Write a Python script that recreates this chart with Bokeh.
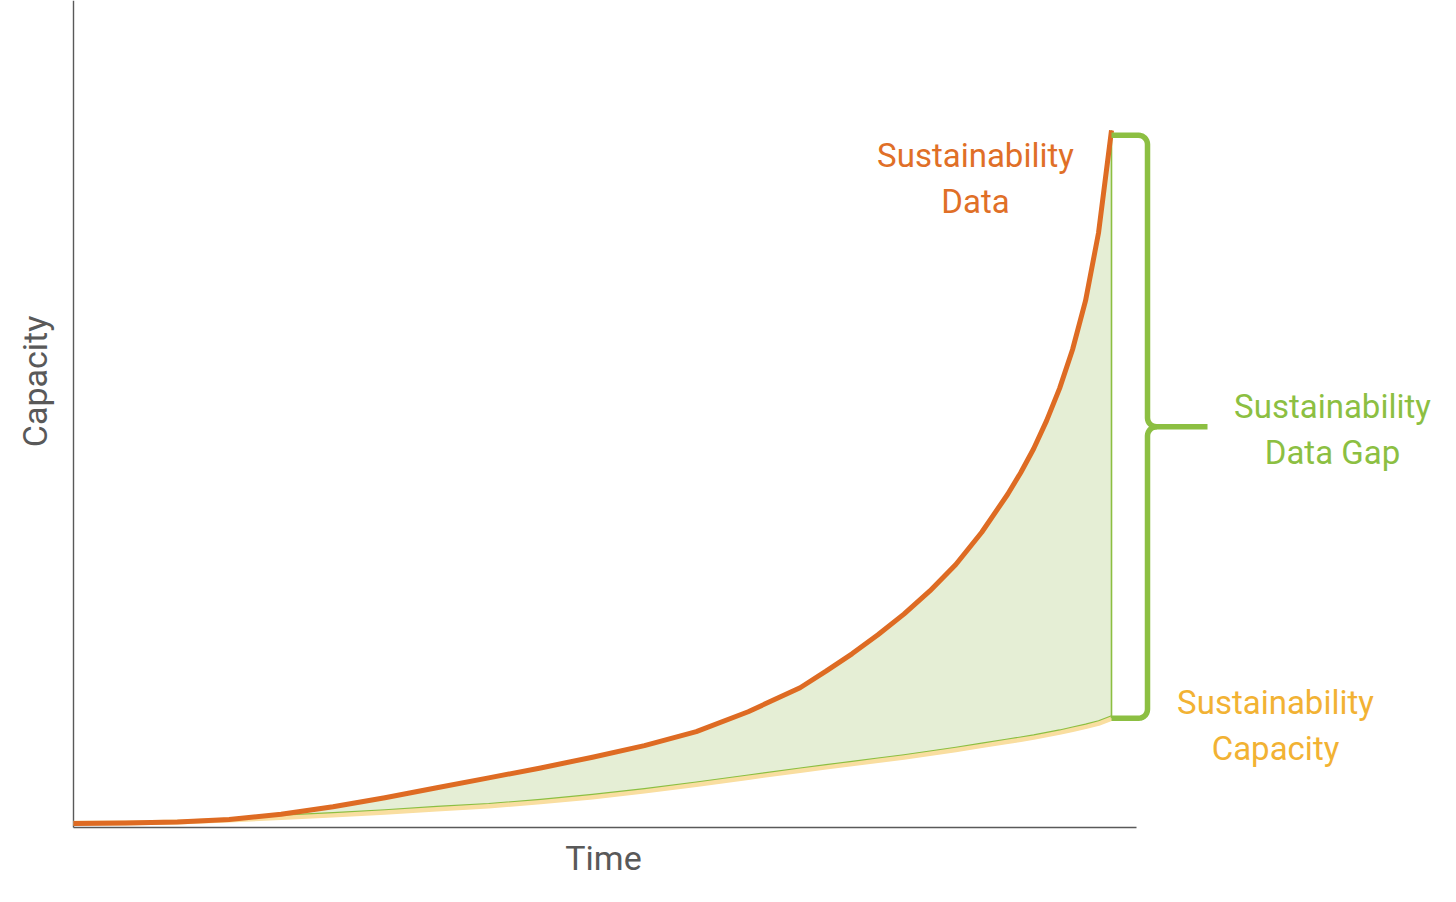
import numpy as np
from bokeh.plotting import figure
from bokeh.models import Range1d
from bokeh.core.properties import value
from bokeh.embed import file_html
from bokeh.resources import INLINE

# ---- data (arbitrary units) ----
time = [0, 0.5, 1, 1.5, 2, 2.5, 3, 3.5, 4, 4.5, 5, 5.5, 6, 6.5, 7, 7.25, 7.5, 7.75, 8,
        8.25, 8.5, 8.75, 9, 9.125, 9.25, 9.375, 9.5, 9.625, 9.75, 9.875, 10]
sustainability_data = [0.48, 0.54, 0.67, 0.97, 1.6, 2.5, 3.6, 4.8, 6.0, 7.2, 8.5, 9.9, 11.6,
                       14.0, 16.9, 18.9, 21.0, 23.3, 25.8, 28.6, 31.8, 35.7, 40.3, 42.9, 45.8,
                       49.2, 53.1, 57.8, 63.7, 71.9, 84.3]
sustainability_capacity = [0.5, 0.55, 0.65, 0.9, 1.2, 1.5, 1.85, 2.25, 2.6, 3.1, 3.7, 4.4, 5.2,
                           6.05, 6.9, 7.3, 7.7, 8.1, 8.5, 8.95, 9.4, 9.9, 10.4, 10.65, 10.9,
                           11.2, 11.5, 11.85, 12.2, 12.6, 13.2]
x_axis_label = "Time"
y_axis_label = "Capacity"
data_label = ["Sustainability", "Data"]
gap_label = ["Sustainability", "Data Gap"]
capacity_label = ["Sustainability", "Capacity"]

# ---- colours ----
ORANGE = "#DE6B23"
ORANGE_TXT = "#E06F27"
YELLOW_LINE = "#F9DEA0"
YELLOW_TXT = "#F2B233"
GREEN = "#8CBF42"
GREEN_FILL = "#E5EED5"
GRAY = "#595959"
FONT = value("Roboto")

# ---- layout helpers (pixel <-> data) ----
W, H = 1456, 902
PX_X, PX_Y = 103.8, 8.27
X0_PX, Y0_PX = 73, 827


def X(px):
    return (px - X0_PX) / PX_X


def Y(py):
    return (Y0_PX - py) / PX_Y


p = figure(width=W, height=H, x_range=Range1d(X(0), X(W)), y_range=Range1d(Y(H), Y(0)),
           output_backend="svg", toolbar_location=None, x_axis_type=None, y_axis_type=None,
           min_border_left=0, min_border_right=0, min_border_top=0, min_border_bottom=0)
p.grid.visible = False
p.outline_line_color = None
p.background_fill_color = "white"
p.border_fill_color = "white"

t = np.array(time, dtype=float)
d = np.array(sustainability_data, dtype=float)
c = np.array(sustainability_capacity, dtype=float)

# axes spines
x_end_axis = X(1136)
p.segment(x0=[0, 0], y0=[0, 0], x1=[0, x_end_axis], y1=[Y(0), 0], line_color=GRAY, line_width=1.4)

# gap fill
p.varea(x=t, y1=c, y2=d, fill_color=GREEN_FILL)
# capacity line
p.line(t, c, line_color=YELLOW_LINE, line_width=5, line_join="round")
# thin green edges of the gap area
p.line(t[4:], c[4:] + 0.3, line_color=GREEN, line_width=1.1, line_join="round")
p.segment(x0=[t[-1]], y0=[c[-1]], x1=[t[-1]], y1=[d[-1]], line_color=GREEN, line_width=1.6)
# data line
p.line(t, d, line_color=ORANGE, line_width=5, line_join="round")

# ---- brace ----
xb = t[-1]
top = d[-1] - 0.6
bot = c[-1]
mid = (top + bot) / 2
xr = xb + 36 / PX_X
xarm = xb + 96 / PX_X
rx, ry = 9 / PX_X, 9 / PX_Y


def arc(cx, cy, a0, a1, n=8):
    a = np.linspace(np.radians(a0), np.radians(a1), n)
    return list(cx + rx * np.cos(a)), list(cy + ry * np.sin(a))


xs, ys = [xb], [top]
ax, ay = arc(xr - rx, top - ry, 90, 0)
xs += ax; ys += ay
ax, ay = arc(xr + rx, mid + ry, 180, 270)
xs += ax; ys += ay
xs += [xarm]; ys += [mid]
upper = (xs, ys)

xs, ys = [], []
ax, ay = arc(xr + rx, mid - ry, 90, 180)
xs += ax; ys += ay
ax, ay = arc(xr - rx, bot + ry, 0, -90)
xs += ax; ys += ay
xs += [xb]; ys += [bot]
lower = (xs, ys)

p.multi_line(xs=[upper[0], lower[0]], ys=[upper[1], lower[1]], line_color=GREEN, line_width=5.5,
             line_join="round", line_cap="butt")

# ---- texts ----
p.text(x=[X(975), X(975)], y=[Y(155), Y(201)], text=data_label, text_font=FONT,
       text_font_size="33px", text_color=ORANGE_TXT, text_align="center", text_baseline="alphabetic")
p.text(x=[X(1332), X(1332)], y=[Y(406), Y(452)], text=gap_label, text_font=FONT,
       text_font_size="33px", text_color=GREEN, text_align="center", text_baseline="alphabetic")
p.text(x=[X(1275), X(1275)], y=[Y(702), Y(748)], text=capacity_label, text_font=FONT,
       text_font_size="33px", text_color=YELLOW_TXT, text_align="center", text_baseline="alphabetic")
p.text(x=[X(603)], y=[Y(857)], text=[x_axis_label], text_font=FONT, text_font_size="34px",
       text_color=GRAY, text_align="center", text_baseline="alphabetic")
p.text(x=[X(34)], y=[Y(381)], text=[y_axis_label], text_font=FONT, text_font_size="34px",
       text_color=GRAY, text_align="center", text_baseline="alphabetic", angle=np.pi / 2)

open("out.html", "w").write(file_html(p, INLINE))
